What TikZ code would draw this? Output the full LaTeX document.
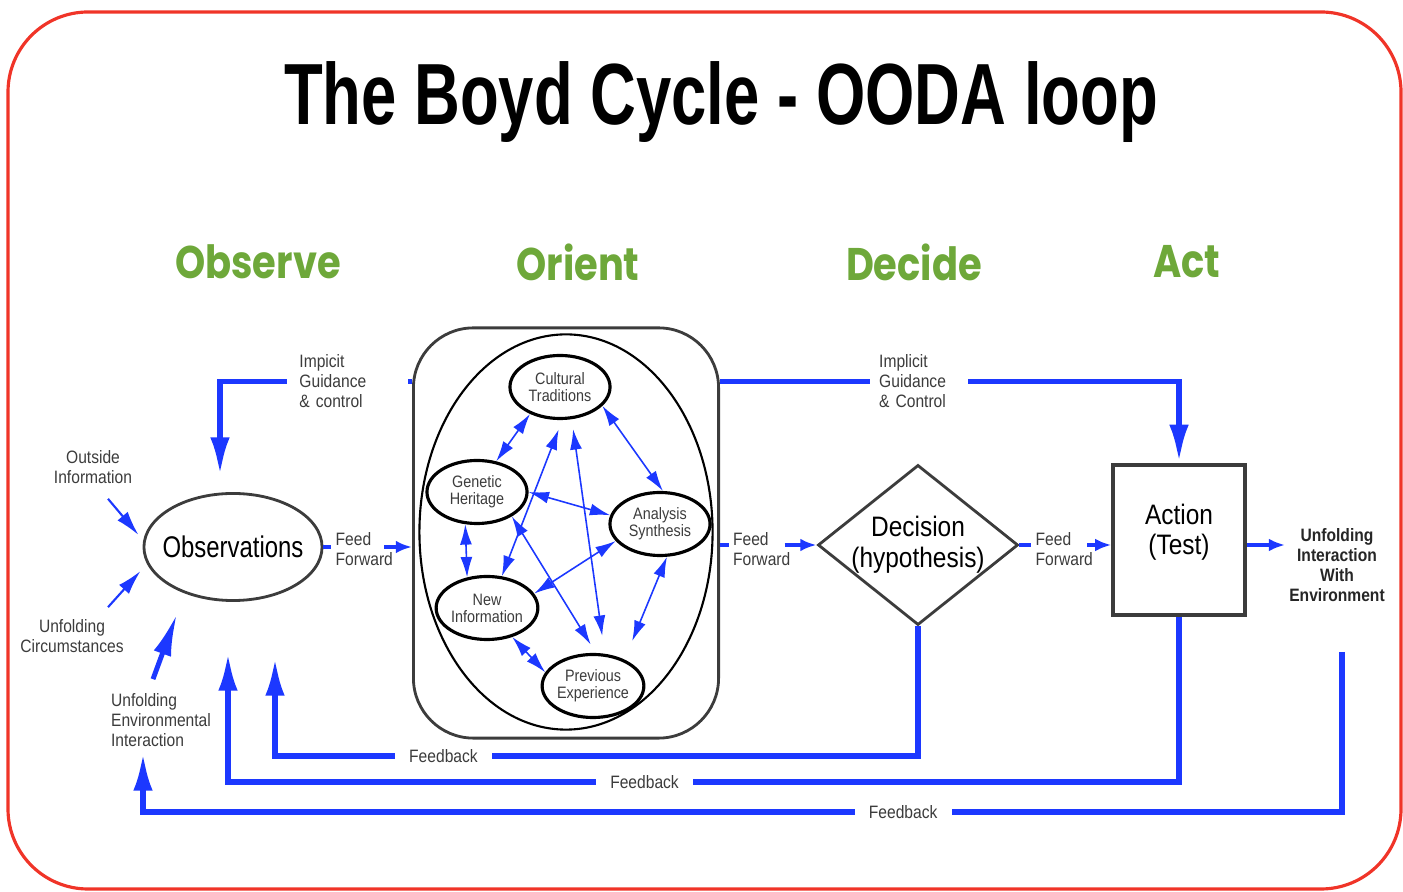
\documentclass[tikz,border=0pt]{standalone}
\usepackage{fontspec}
\setmainfont{Liberation Sans}
\newfontfamily\narrowsans[FakeStretch=0.87]{Liberation Sans}
\newfontfamily\obsfont[FakeStretch=0.8]{Liberation Sans}
\newfontfamily\headfont[FakeStretch=0.73]{Liberation Sans}
\newfontfamily\phasefont[FakeStretch=0.84]{Poppins}
\usepackage{tikz}
\usetikzlibrary{positioning, arrows.meta, shapes.geometric}

\definecolor{loopblue}{RGB}{28,56,255}
\definecolor{phasegreen}{RGB}{110,168,58}
\definecolor{framered}{RGB}{240,52,40}
\definecolor{inkgray}{RGB}{60,60,60}

\tikzstyle{phase} = [font=\phasefont\bfseries\fontsize{13}{15}\selectfont, text=phasegreen]
\tikzstyle{lbl} = [font=\narrowsans\fontsize{5.1}{5.7}\selectfont, text=inkgray, inner sep=1pt]
\tikzstyle{gap} = [lbl, fill=white, inner xsep=4pt]
\tikzstyle{factor} = [ellipse, draw=black, line width=0.9pt, minimum width=1cm, minimum height=0.63cm, inner sep=0pt, align=center, font=\narrowsans\fontsize{4.7}{4.85}\selectfont, text=inkgray]
\tikzstyle{link} = [loopblue, line width=0.45pt, {Latex[length=5.8pt,width=3.4pt]}-{Latex[length=5.8pt,width=3.4pt]}]
\tikzstyle{feedline} = [loopblue, line width=1.1pt]
\tikzstyle{feed} = [feedline, -{Latex[length=4.6pt,width=3.6pt]}]
\tikzstyle{guide} = [loopblue, line width=1.7pt, -{Latex[length=11pt,width=5.5pt]}]
\tikzstyle{input} = [loopblue, line width=0.6pt, -{Latex[length=7pt,width=3.8pt]}]
\tikzstyle{heavyinput} = [loopblue, line width=1.4pt, -{Latex[length=12pt,width=5.2pt]}]

\begin{document}
\begin{tikzpicture}[x=0.01cm, y=-0.01cm]
\useasboundingbox (0,0) rectangle (1403,892);
\draw[framered, line width=0.9pt, rounded corners=0.8cm] (8,12) rectangle (1401,889);

\node (title) at (721,102) {\headfont\bfseries\fontsize{24.7}{28}\selectfont The Boyd Cycle - OODA loop};
\node[phase] (observe) at (258,262) {Observe};
\node[phase] (orienthead) at (578,262) {Orient};
\node[phase] (decide) at (914,262) {Decide};
\node[phase] (acthead) at (1187,262) {Act};

% main stages
\node[ellipse, draw=inkgray, line width=0.8pt, minimum width=1.78cm, minimum height=1.07cm, inner xsep=-0.08cm, inner ysep=0pt, font=\obsfont\fontsize{8.5}{10}\selectfont] (obs) at (233,547) {Observations};
\node[draw=inkgray, line width=0.8pt, rounded corners=0.6cm, minimum width=3.05cm, minimum height=4.1cm] (orient) at (566,533) {};
\node[ellipse, draw=black, line width=0.6pt, minimum width=2.93cm, minimum height=3.95cm] (ring) at (566,532) {};
\node[diamond, draw=inkgray, line width=0.8pt, minimum width=2cm, minimum height=1.6cm, inner sep=0pt,
      label={[font=\narrowsans\fontsize{8}{8.8}\selectfont, align=center]center:Decision\\(hypothesis)}] (dec) at (918,545) {};
\node[draw=inkgray, line width=0.9pt, minimum width=1.32cm, minimum height=1.5cm, inner sep=0pt,
      label={[font=\narrowsans\fontsize{8}{8.6}\selectfont, align=center, yshift=0.08cm]center:Action\\(Test)}] (act) at (1179,540) {};

% orientation factors
\node[factor] (cult) at (560,387) {Cultural\\Traditions};
\node[factor] (gen) at (477,492) {Genetic\\Heritage};
\node[factor] (ana) at (660,524) {Analysis\\Synthesis};
\node[factor] (newinfo) at (487,608) {New\\Information};
\node[factor] (prev) at (593,686) {Previous\\Experience};

\draw[link] (cult.222) -- (gen.58);
\draw[link] (cult.-24) -- (ana.85);
\draw[link] (gen.east) -- (ana.170);
\draw[link] (gen.250) -- (newinfo.123);
\draw[link, shorten <=0.1cm] (cult.274) -- (newinfo.65);
\draw[link, shorten <=0.1cm, shorten >=0.18cm] (cult.290) -- (prev.70);
\draw[link, shorten >=0.1cm] (gen.-35) -- (prev.85);
\draw[link] (ana.201) -- (newinfo.17);
\draw[link, shorten >=0.2cm] (ana.282) -- (prev.40);
\draw[link] (newinfo.-49) -- (prev.164);

% outside inputs
\node[lbl, align=center] (outside) at (93,467) {Outside\\Information};
\node[lbl, align=center] (circ) at (72,636) {Unfolding\\Circumstances};
\node[lbl, align=left] (envint) at (161,720) {Unfolding\\Environmental\\Interaction};
\node[lbl, align=center, font=\narrowsans\bfseries\fontsize{5.1}{5.7}\selectfont, text=black!85] (env) at (1337,565) {Unfolding\\Interaction\\With\\Environment};

\draw[input] ([xshift=0.15cm,yshift=-0.11cm]outside.south) -- ([xshift=-0.04cm,yshift=0.12cm]obs.west);
\draw[input] ([xshift=0.36cm,yshift=0.08cm]circ.north) -- ([xshift=-0.02cm,yshift=-0.24cm]obs.west);
\draw[heavyinput] ([xshift=-0.08cm,yshift=0.1cm]envint.north) -- ([xshift=-0.56cm,yshift=-0.12cm]obs.south);

% feed forward
\node[lbl, align=left, right=0.08cm of obs, yshift=-0.02cm] (ffobs) {Feed\\Forward};
\node[lbl, align=left, left=0.22cm of dec, yshift=-0.04cm] (fforient) {Feed\\Forward};
\node[lbl, align=left, right=0.12cm of dec, yshift=-0.04cm] (ffdec) {Feed\\Forward};
\draw[feedline] (obs.east) -- (obs.east -| ffobs.west);
\draw[feed] ([xshift=-0.13cm]ffobs.east |- obs.east) -- (obs.east -| orient.west);
\draw[feedline] (dec.west -| orient.east) -- (dec.west -| fforient.west);
\draw[feed] ([xshift=-0.1cm]fforient.east |- dec.west) -- (dec.west);
\draw[feedline] (dec.east) -- (dec.east -| ffdec.west);
\draw[feed] ([xshift=-0.1cm]ffdec.east |- dec.east) -- (dec.east -| act.west);
\draw[feed] ([yshift=-0.05cm]act.east) -- ([yshift=-0.05cm]act.east -| env.west);

% implicit guidance
\draw[guide] ([yshift=-0.55cm]orient.north west) -| node[gap, pos=0.168, text width=0.96cm, align=left, inner xsep=0.12cm] {Impicit\\Guidance\\\& control} ([xshift=-0.13cm,yshift=0.16cm]obs.north);
\draw[guide] ([yshift=-0.55cm]orient.north east) -| node[gap, pos=0.217, text width=0.8cm, align=left, inner xsep=0.09cm] {Implicit\\Guidance\\\& Control} (act.north);

% feedback
\coordinate (fbdec) at (275,657);
\coordinate (fbact) at (228,652);
\coordinate (fbenv) at (143,752);
\coordinate (envout) at (1342,652);
\draw[guide] (dec.south) -- ++(0,130) -| node[gap, pos=0.369] {Feedback} (fbdec);
\draw[guide] (act.south) -- ++(0,165) -| node[gap, pos=0.281] {Feedback} (fbact);
\draw[guide] (envout) -- ++(0,160) -| node[gap, pos=0.183] {Feedback} (fbenv);
\end{tikzpicture}
\end{document}
